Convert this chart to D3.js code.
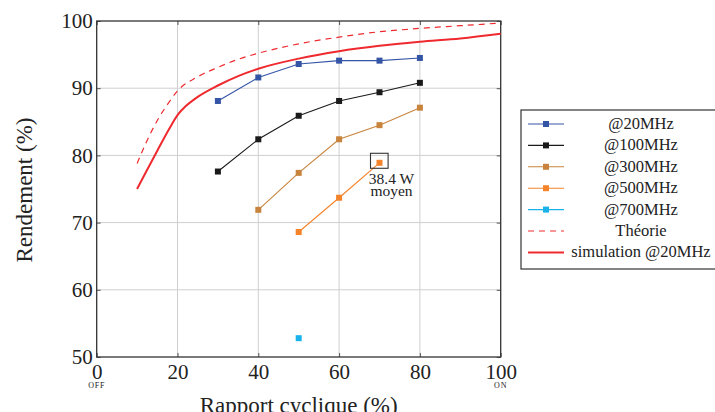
<!DOCTYPE html>
<html><head><meta charset="utf-8">
<script src="https://cdn.jsdelivr.net/npm/d3@7"></script>
<style>body{margin:0;background:#fff}svg{display:block}</style>
</head><body><svg id="c" width="715" height="412"></svg>
<script>
const xTicks = [0, 20, 40, 60, 80, 100];
const yTicks = [50, 60, 70, 80, 90, 100];
const seriesNames = ["@20MHz", "@100MHz", "@300MHz", "@500MHz", "@700MHz"];
const seriesColors = ["#3455a6", "#1a1a1a", "#c8843c", "#f5832a", "#19b2ea"];
const x20 = [30, 40, 50, 60, 70, 80];
const y20 = [88.1, 91.6, 93.6, 94.1, 94.1, 94.5];
const x100 = [30, 40, 50, 60, 70, 80];
const y100 = [77.6, 82.4, 85.9, 88.1, 89.4, 90.8];
const x300 = [40, 50, 60, 70, 80];
const y300 = [71.9, 77.4, 82.4, 84.5, 87.1];
const x500 = [50, 60, 70];
const y500 = [68.6, 73.7, 78.9];
const x700 = [50];
const y700 = [52.8];
const theoX = [10, 12, 15, 18, 20, 25, 30, 35, 40, 50, 60, 70, 80, 90, 100];
const theoY = [78.8, 81.6, 85.2, 88.0, 89.6, 91.7, 93.1, 94.3, 95.2, 96.6, 97.6, 98.4, 98.9, 99.3, 99.7];
const simX = [10, 12, 15, 18, 20, 22, 25, 30, 35, 40, 50, 60, 70, 80, 90, 100];
const simY = [75.0, 77.3, 80.7, 84.0, 86.0, 87.3, 88.7, 90.4, 91.8, 92.9, 94.4, 95.5, 96.3, 96.9, 97.4, 98.1];
const annot = ["38.4 W", "moyen"];
const xTitle = "Rapport cyclique (%)";
const yTitle = "Rendement (%)";
const endLabels = ["OFF", "ON"];

const seriesX = [x20, x100, x300, x500, x700];
const seriesY = [y20, y100, y300, y500, y700];
const FONT = '"Liberation Serif"';

const svg = d3.select("#c");
const L = 96.7, R = 500.7, T = 21, B = 357;
const x = d3.scaleLinear().domain([0, 100]).range([L, R]);
const y = d3.scaleLinear().domain([50, 100]).range([B, T]);

function txt(sel, size) {
  return sel.style("font-family", FONT).style("font-size", size + "px").attr("fill", "#222");
}

// grid
svg.append("g").selectAll("line").data(xTicks.slice(1, -1)).join("line")
  .attr("x1", d => x(d)).attr("x2", d => x(d)).attr("y1", T).attr("y2", B)
  .attr("stroke", "#cfcfcf").attr("stroke-width", 1);
svg.append("g").selectAll("line").data(yTicks.slice(1, -1)).join("line")
  .attr("y1", d => y(d)).attr("y2", d => y(d)).attr("x1", L).attr("x2", R)
  .attr("stroke", "#cfcfcf").attr("stroke-width", 1);

// axes (ticks inside)
const gx = svg.append("g").attr("transform", `translate(0,${B})`)
  .call(d3.axisBottom(x).tickValues(xTicks).tickSize(-4).tickPadding(7).tickFormat(d3.format("d")));
const gxt = svg.append("g").attr("transform", `translate(0,${T})`)
  .call(d3.axisTop(x).tickValues(xTicks).tickSize(-4).tickFormat(""));
const gy = svg.append("g").attr("transform", `translate(${L},0)`)
  .call(d3.axisLeft(y).tickValues(yTicks).tickSize(-4).tickPadding(4).tickFormat(d3.format("d")));
const gyr = svg.append("g").attr("transform", `translate(${R},0)`)
  .call(d3.axisRight(y).tickValues(yTicks).tickSize(-4).tickFormat(""));
[gx, gxt, gy, gyr].forEach(g => {
  g.attr("font-family", null).attr("font-size", null);
  g.select(".domain").remove();
  g.selectAll(".tick line").attr("stroke", "#555");
  txt(g.selectAll("text"), 21);
});
svg.append("rect").attr("x", L).attr("y", T).attr("width", R - L).attr("height", B - T)
  .attr("fill", "none").attr("stroke", "#333").attr("stroke-width", 1.3);

// OFF / ON
txt(svg.append("text").attr("x", x(0)).attr("y", 388).attr("text-anchor", "middle"), 8).style("letter-spacing", "0.8px").text(endLabels[0]);
txt(svg.append("text").attr("x", x(100)).attr("y", 388).attr("text-anchor", "middle"), 8).style("letter-spacing", "0.8px").text(endLabels[1]);

// axis titles
txt(svg.append("text").attr("x", (L + R) / 2).attr("y", 413).attr("text-anchor", "middle"), 23).text(xTitle);
txt(svg.append("text").attr("transform", `translate(32,${(T + B) / 2 + 1}) rotate(-90)`).attr("text-anchor", "middle"), 23).text(yTitle);

const line = d3.line().x(d => x(d[0])).y(d => y(d[1]));
const curve = d3.line().x(d => x(d[0])).y(d => y(d[1])).curve(d3.curveMonotoneX);

// theory & simulation
svg.append("path").datum(theoX.map((v, i) => [v, theoY[i]])).attr("d", curve)
  .attr("fill", "none").attr("stroke", "#ee2a2f").attr("stroke-width", 1.2).attr("stroke-dasharray", "6,5");
svg.append("path").datum(simX.map((v, i) => [v, simY[i]])).attr("d", curve)
  .attr("fill", "none").attr("stroke", "#ee2a2f").attr("stroke-width", 2);

// series
seriesX.forEach((xs, k) => {
  const pts = xs.map((v, i) => [v, seriesY[k][i]]);
  const g = svg.append("g");
  g.append("path").datum(pts).attr("d", line).attr("fill", "none").attr("stroke", seriesColors[k]).attr("stroke-width", 1.1);
  g.selectAll("rect").data(pts).join("rect")
    .attr("x", d => x(d[0]) - 3).attr("y", d => y(d[1]) - 3).attr("width", 6).attr("height", 6)
    .attr("fill", seriesColors[k]);
});

// annotation
const ap = [x500[2], y500[2]];
svg.append("rect").attr("x", x(ap[0]) - 9).attr("y", y(ap[1]) - 9.5).attr("width", 17.6).attr("height", 15)
  .attr("fill", "none").attr("stroke", "#333").attr("stroke-width", 1.1);
txt(svg.append("text").attr("x", x(ap[0]) + 12).attr("y", y(ap[1]) + 21.5).attr("text-anchor", "middle"), 15.5).text(annot[0]);
txt(svg.append("text").attr("x", x(ap[0]) + 12).attr("y", y(ap[1]) + 33).attr("text-anchor", "middle"), 15.5).text(annot[1]);

// legend
const lg = svg.append("g");
lg.append("rect").attr("x", 521).attr("y", 110).attr("width", 196).attr("height", 159)
  .attr("fill", "#fff").attr("stroke", "#333").attr("stroke-width", 1.2);
const legNames = seriesNames.concat(["Théorie", "simulation @20MHz"]);
legNames.forEach((n, i) => {
  const yy = 124 + i * 21.4;
  if (i < 5) {
    lg.append("line").attr("x1", 528).attr("x2", 564).attr("y1", yy).attr("y2", yy).attr("stroke", seriesColors[i]).attr("stroke-width", 1.1);
    lg.append("rect").attr("x", 543).attr("y", yy - 3).attr("width", 6).attr("height", 6).attr("fill", seriesColors[i]);
  } else if (i === 5) {
    lg.append("line").attr("x1", 528).attr("x2", 564).attr("y1", yy).attr("y2", yy).attr("stroke", "#ee2a2f").attr("stroke-width", 1.2).attr("stroke-dasharray", "6,5");
  } else {
    lg.append("line").attr("x1", 528).attr("x2", 564).attr("y1", yy).attr("y2", yy).attr("stroke", "#ee2a2f").attr("stroke-width", 2);
  }
  txt(lg.append("text").attr("x", 641).attr("y", yy + 5).attr("text-anchor", "middle"), 16.5).text(n);
});
</script></body></html>
